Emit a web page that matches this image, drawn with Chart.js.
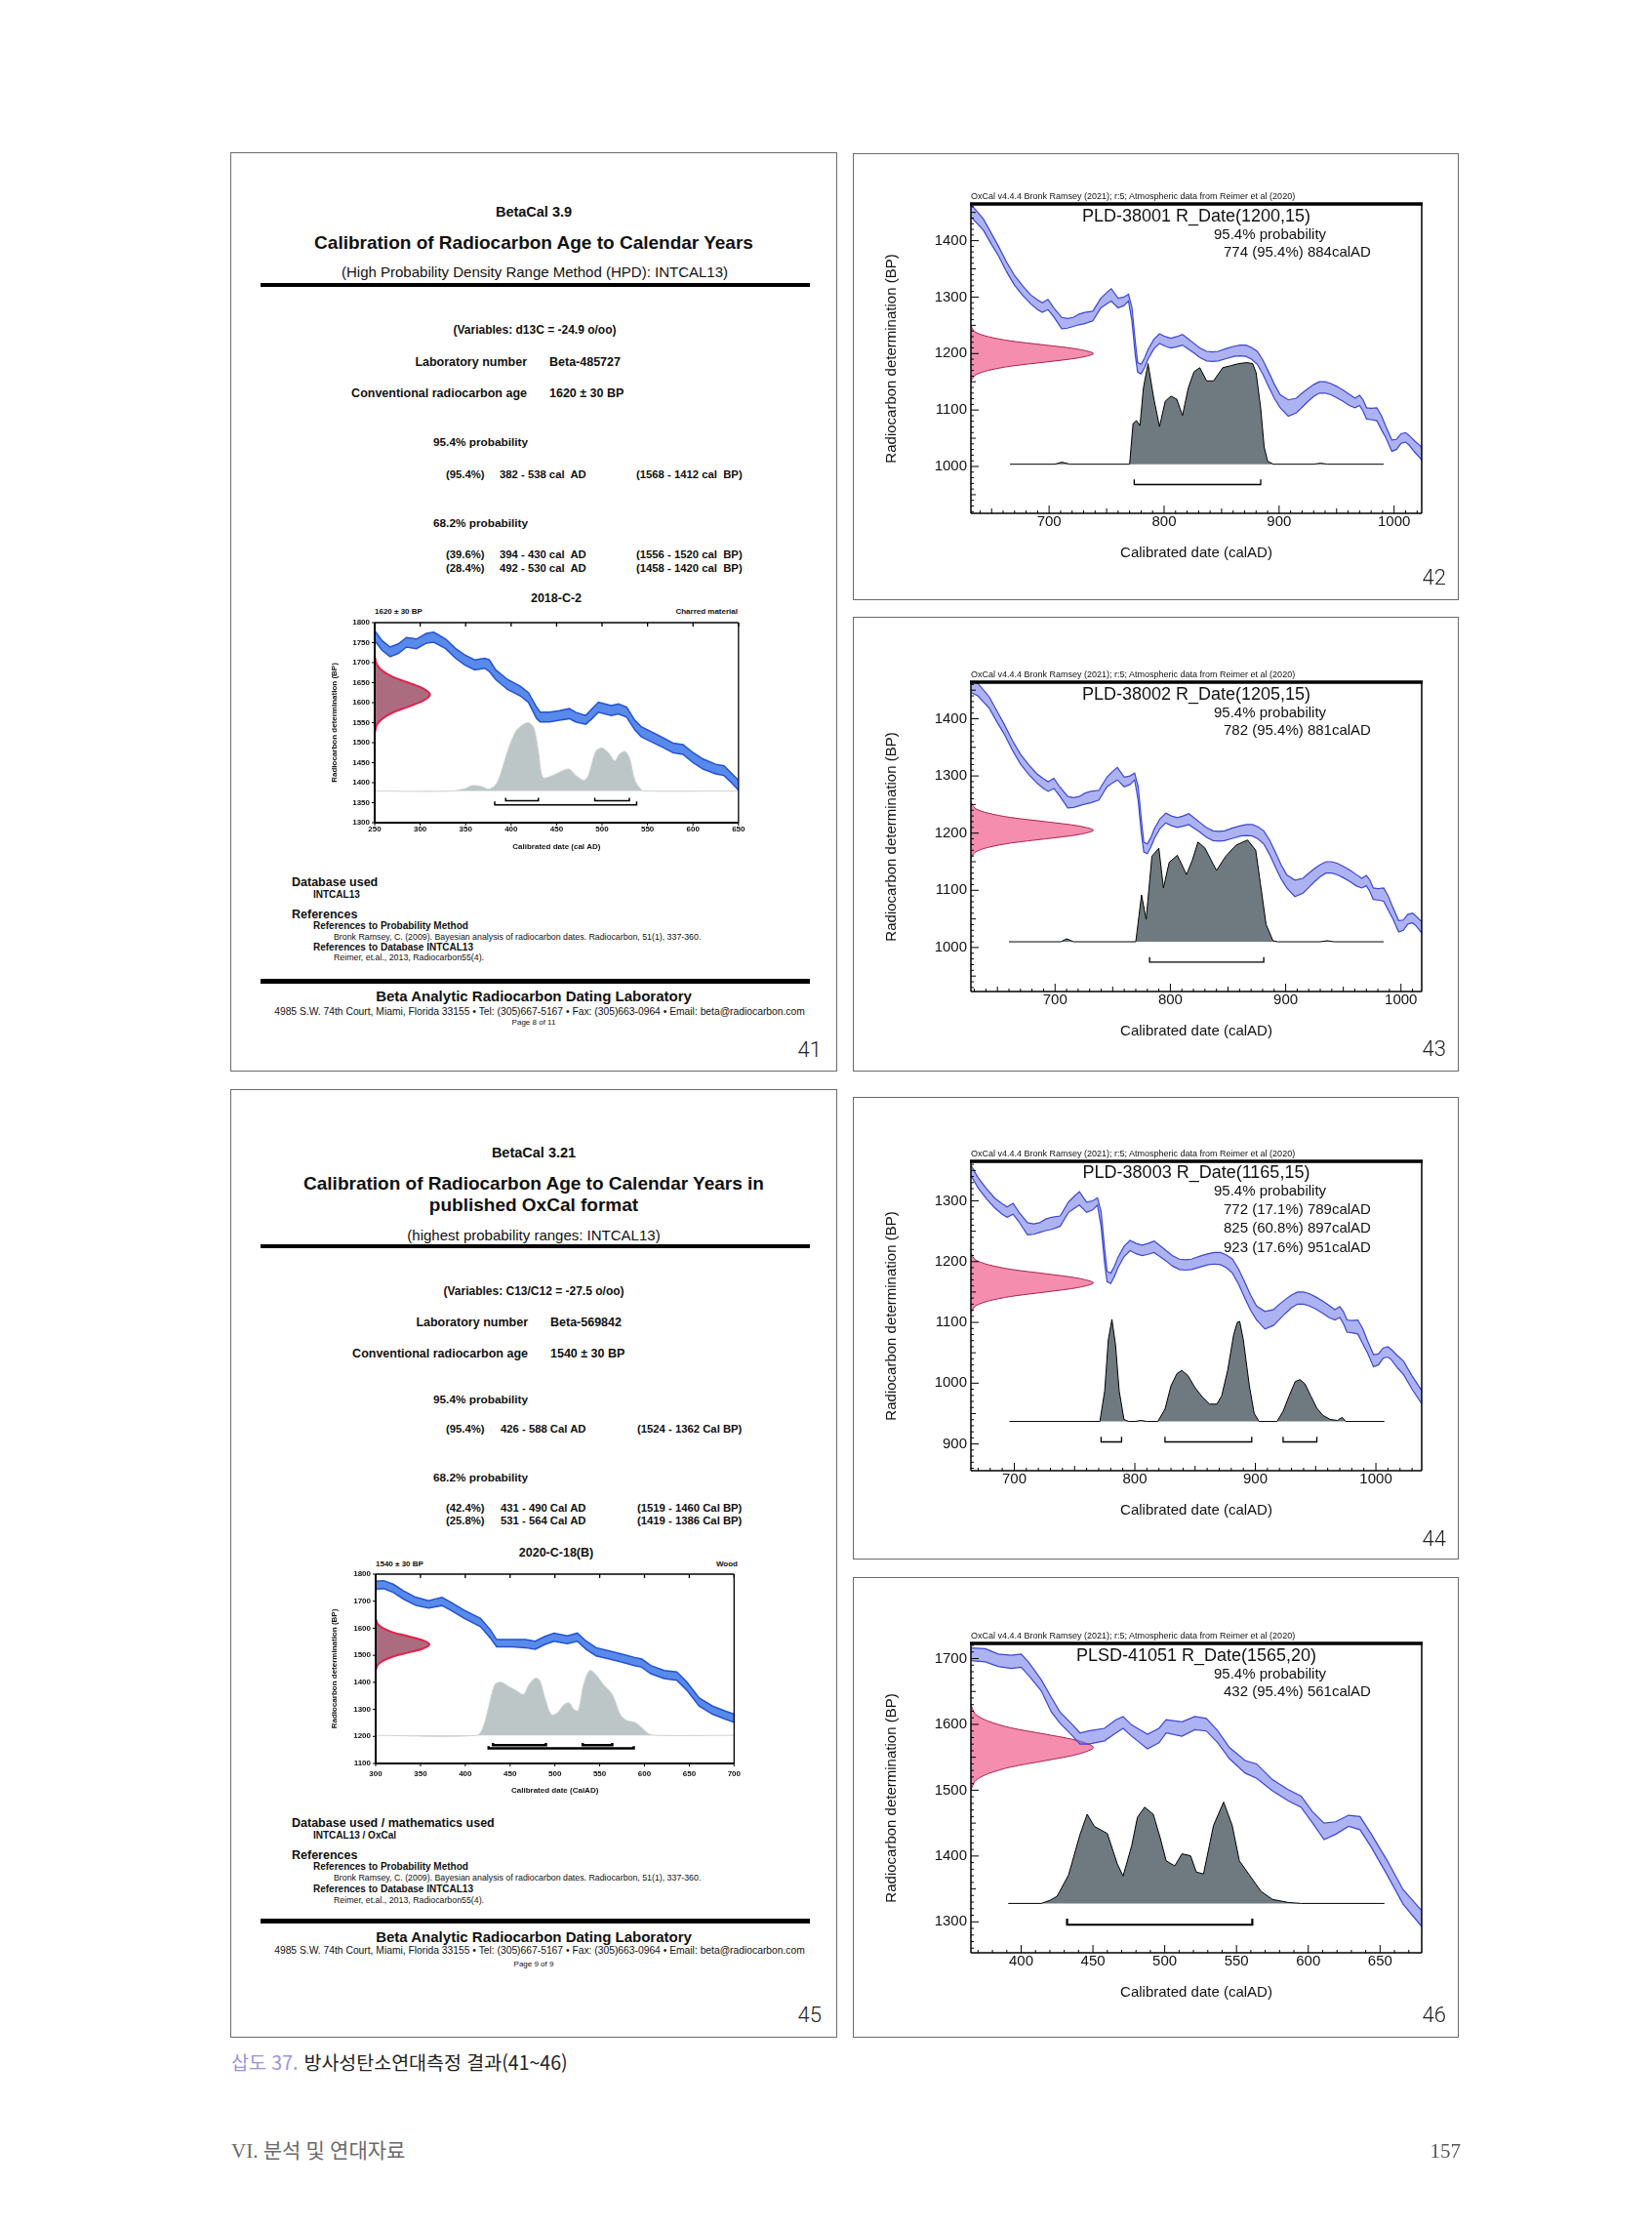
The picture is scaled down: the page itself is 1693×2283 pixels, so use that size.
<!DOCTYPE html>
<html lang="ko">
<head>
<meta charset="utf-8">
<title>삽도 37. 방사성탄소연대측정 결과(41~46)</title>
<script src="https://cdn.jsdelivr.net/npm/chart.js@4.4.1/dist/chart.umd.min.js"></script>
<style>
  html, body { margin: 0; padding: 0; }
  body { width: 1693px; height: 2283px; position: relative; overflow: hidden; background: #fff;
         font-family: "Liberation Sans", Arial, sans-serif; color: #111; }
  .p { position: absolute; border: 1px solid #6b6b6b; box-sizing: border-box; }
  .t { position: absolute; white-space: nowrap; line-height: 1; }
  .l { transform: translateY(-50%); }
  .c { transform: translate(-50%, -50%); }
  .r { transform: translate(-100%, -50%); }
  .b { font-weight: bold; }
  .rule { position: absolute; background: #000; }
  .num { font-family: Roboto, "Noto Sans", sans-serif; font-weight: 300; font-size: 22px; color: #222; }
  canvas { position: absolute; }
</style>
</head>
<body>

<!-- ── panel 41 (BetaCal 3.9) ───────────────────────────────────── -->
<div class="p" style="left:236px;top:156px;width:622px;height:942px"></div>
<div class="t c b" style="left:547px;top:217px;font-size:14.5px">BetaCal 3.9</div>
<div class="t c b" style="left:547px;top:248px;font-size:19px">Calibration of Radiocarbon Age to Calendar Years</div>
<div class="t c" style="left:548px;top:278px;font-size:15px">(High Probability Density Range Method (HPD): INTCAL13)</div>
<div class="rule" style="left:267px;top:290px;width:563px;height:4px"></div>
<div class="t c b" style="left:548px;top:338px;font-size:12px">(Variables: d13C = -24.9 o/oo)</div>
<div class="t r b" style="left:540px;top:371px;font-size:12.5px">Laboratory number</div>
<div class="t l b" style="left:563px;top:371px;font-size:12.5px">Beta-485727</div>
<div class="t r b" style="left:540px;top:403px;font-size:12.5px">Conventional radiocarbon age</div>
<div class="t l b" style="left:563px;top:403px;font-size:12.5px">1620 ± 30 BP</div>
<div class="t l b" style="left:444px;top:454px;font-size:11.8px">95.4% probability</div>
<div class="t l b" style="left:457px;top:487px;font-size:11.3px">(95.4%)</div>
<div class="t l b" style="left:512px;top:487px;font-size:11.3px">382 - 538 cal&nbsp; AD</div>
<div class="t l b" style="left:652px;top:487px;font-size:11.3px">(1568 - 1412 cal&nbsp; BP)</div>
<div class="t l b" style="left:444px;top:537px;font-size:11.8px">68.2% probability</div>
<div class="t l b" style="left:457px;top:569px;font-size:11.3px">(39.6%)</div>
<div class="t l b" style="left:512px;top:569px;font-size:11.3px">394 - 430 cal&nbsp; AD</div>
<div class="t l b" style="left:652px;top:569px;font-size:11.3px">(1556 - 1520 cal&nbsp; BP)</div>
<div class="t l b" style="left:457px;top:583px;font-size:11.3px">(28.4%)</div>
<div class="t l b" style="left:512px;top:583px;font-size:11.3px">492 - 530 cal&nbsp; AD</div>
<div class="t l b" style="left:652px;top:583px;font-size:11.3px">(1458 - 1420 cal&nbsp; BP)</div>
<div class="t c b" style="left:570px;top:613px;font-size:12.5px">2018-C-2</div>
<div class="t l b" style="left:384px;top:627px;font-size:8px">1620 ± 30 BP</div>
<div class="t r b" style="left:756px;top:627px;font-size:8px">Charred material</div>
<canvas id="c41" width="435" height="250" style="left:330px;top:628px"></canvas>
<div class="t l b" style="left:299px;top:904px;font-size:12.5px">Database used</div>
<div class="t l b" style="left:321px;top:917px;font-size:10px">INTCAL13</div>
<div class="t l b" style="left:299px;top:937px;font-size:12.5px">References</div>
<div class="t l b" style="left:321px;top:949px;font-size:10px">References to Probability Method</div>
<div class="t l" style="left:342px;top:960px;font-size:8.8px">Bronk Ramsey, C. (2009). Bayesian analysis of radiocarbon dates. Radiocarbon, 51(1), 337-360.</div>
<div class="t l b" style="left:321px;top:971px;font-size:10px">References to Database INTCAL13</div>
<div class="t l" style="left:342px;top:981px;font-size:8.8px">Reimer, et.al., 2013, Radiocarbon55(4).</div>
<div class="rule" style="left:267px;top:1003px;width:563px;height:5px"></div>
<div class="t c b" style="left:547px;top:1020px;font-size:15px">Beta Analytic Radiocarbon Dating Laboratory</div>
<div class="t c" style="left:553px;top:1037px;font-size:10.3px">4985 S.W. 74th Court, Miami, Florida 33155 • Tel: (305)667-5167 • Fax: (305)663-0964 • Email: beta@radiocarbon.com</div>
<div class="t c" style="left:547px;top:1048px;font-size:8px">Page 8 of 11</div>
<div class="t r num" style="left:842px;top:1076px">41</div>

<!-- ── panel 45 (BetaCal 3.21) ──────────────────────────────────── -->
<div class="p" style="left:236px;top:1116px;width:622px;height:972px"></div>
<div class="t c b" style="left:547px;top:1181px;font-size:14.5px">BetaCal 3.21</div>
<div class="t c b" style="left:547px;top:1212px;font-size:19px">Calibration of Radiocarbon Age to Calendar Years in</div>
<div class="t c b" style="left:547px;top:1234px;font-size:19px">published OxCal format</div>
<div class="t c" style="left:547px;top:1265px;font-size:15px">(highest probability ranges: INTCAL13)</div>
<div class="rule" style="left:267px;top:1275px;width:563px;height:4px"></div>
<div class="t c b" style="left:547px;top:1323px;font-size:12px">(Variables: C13/C12 = -27.5 o/oo)</div>
<div class="t r b" style="left:541px;top:1355px;font-size:12.5px">Laboratory number</div>
<div class="t l b" style="left:564px;top:1355px;font-size:12.5px">Beta-569842</div>
<div class="t r b" style="left:541px;top:1387px;font-size:12.5px">Conventional radiocarbon age</div>
<div class="t l b" style="left:564px;top:1387px;font-size:12.5px">1540 ± 30 BP</div>
<div class="t l b" style="left:444px;top:1435px;font-size:11.8px">95.4% probability</div>
<div class="t l b" style="left:457px;top:1465px;font-size:11.3px">(95.4%)</div>
<div class="t l b" style="left:513px;top:1465px;font-size:11.3px">426 - 588 Cal AD</div>
<div class="t l b" style="left:653px;top:1465px;font-size:11.3px">(1524 - 1362 Cal BP)</div>
<div class="t l b" style="left:444px;top:1515px;font-size:11.8px">68.2% probability</div>
<div class="t l b" style="left:457px;top:1546px;font-size:11.3px">(42.4%)</div>
<div class="t l b" style="left:513px;top:1546px;font-size:11.3px">431 - 490 Cal AD</div>
<div class="t l b" style="left:653px;top:1546px;font-size:11.3px">(1519 - 1460 Cal BP)</div>
<div class="t l b" style="left:457px;top:1559px;font-size:11.3px">(25.8%)</div>
<div class="t l b" style="left:513px;top:1559px;font-size:11.3px">531 - 564 Cal AD</div>
<div class="t l b" style="left:653px;top:1559px;font-size:11.3px">(1419 - 1386 Cal BP)</div>
<div class="t c b" style="left:570px;top:1591px;font-size:12.5px">2020-C-18(B)</div>
<div class="t l b" style="left:385px;top:1603px;font-size:8px">1540 ± 30 BP</div>
<div class="t r b" style="left:756px;top:1603px;font-size:8px">Wood</div>
<canvas id="c45" width="435" height="242" style="left:330px;top:1603px"></canvas>
<div class="t l b" style="left:299px;top:1868px;font-size:12.5px">Database used / mathematics used</div>
<div class="t l b" style="left:321px;top:1881px;font-size:10px">INTCAL13 / OxCal</div>
<div class="t l b" style="left:299px;top:1901px;font-size:12.5px">References</div>
<div class="t l b" style="left:321px;top:1913px;font-size:10px">References to Probability Method</div>
<div class="t l" style="left:342px;top:1924px;font-size:8.8px">Bronk Ramsey, C. (2009). Bayesian analysis of radiocarbon dates. Radiocarbon, 51(1), 337-360.</div>
<div class="t l b" style="left:321px;top:1936px;font-size:10px">References to Database INTCAL13</div>
<div class="t l" style="left:342px;top:1947px;font-size:8.8px">Reimer, et.al., 2013, Radiocarbon55(4).</div>
<div class="rule" style="left:267px;top:1966px;width:563px;height:5px"></div>
<div class="t c b" style="left:547px;top:1984px;font-size:15px">Beta Analytic Radiocarbon Dating Laboratory</div>
<div class="t c" style="left:553px;top:1999px;font-size:10.3px">4985 S.W. 74th Court, Miami, Florida 33155 • Tel: (305)667-5167 • Fax: (305)663-0964 • Email: beta@radiocarbon.com</div>
<div class="t c" style="left:547px;top:2013px;font-size:8px">Page 9 of 9</div>
<div class="t r num" style="left:842px;top:2065px">45</div>

<!-- ── panel 42 ─────────────────────────────────────────────────── -->
<div class="p" style="left:874px;top:157px;width:621px;height:458px"></div>
<canvas id="c42" width="585" height="390" style="left:880px;top:196px"></canvas>
<div class="t l" style="left:995px;top:201px;font-size:9px">OxCal v4.4.4 Bronk Ramsey (2021); r:5; Atmospheric data from Reimer et al (2020)</div>
<div class="t c" style="left:1226px;top:221px;font-size:18px">PLD-38001 R_Date(1200,15)</div>
<div class="t l" style="left:1244px;top:239px;font-size:15px">95.4% probability</div>
<div class="t l" style="left:1254px;top:257px;font-size:15px">774 (95.4%) 884calAD</div>
<div class="t r num" style="left:1482px;top:592px">42</div>

<!-- ── panel 43 ─────────────────────────────────────────────────── -->
<div class="p" style="left:874px;top:632px;width:621px;height:466px"></div>
<canvas id="c43" width="585" height="390" style="left:880px;top:686px"></canvas>
<div class="t l" style="left:995px;top:691px;font-size:9px">OxCal v4.4.4 Bronk Ramsey (2021); r:5; Atmospheric data from Reimer et al (2020)</div>
<div class="t c" style="left:1226px;top:711px;font-size:18px">PLD-38002 R_Date(1205,15)</div>
<div class="t l" style="left:1244px;top:729px;font-size:15px">95.4% probability</div>
<div class="t l" style="left:1254px;top:747px;font-size:15px">782 (95.4%) 881calAD</div>
<div class="t r num" style="left:1482px;top:1075px">43</div>

<!-- ── panel 44 ─────────────────────────────────────────────────── -->
<div class="p" style="left:874px;top:1124px;width:621px;height:474px"></div>
<canvas id="c44" width="585" height="390" style="left:880px;top:1177px"></canvas>
<div class="t l" style="left:995px;top:1182px;font-size:9px">OxCal v4.4.4 Bronk Ramsey (2021); r:5; Atmospheric data from Reimer et al (2020)</div>
<div class="t c" style="left:1226px;top:1201px;font-size:18px">PLD-38003 R_Date(1165,15)</div>
<div class="t l" style="left:1244px;top:1219px;font-size:15px">95.4% probability</div>
<div class="t l" style="left:1254px;top:1238px;font-size:15px">772 (17.1%) 789calAD</div>
<div class="t l" style="left:1254px;top:1257px;font-size:15px">825 (60.8%) 897calAD</div>
<div class="t l" style="left:1254px;top:1277px;font-size:15px">923 (17.6%) 951calAD</div>
<div class="t r num" style="left:1482px;top:1577px">44</div>

<!-- ── panel 46 ─────────────────────────────────────────────────── -->
<div class="p" style="left:874px;top:1616px;width:621px;height:472px"></div>
<canvas id="c46" width="585" height="390" style="left:880px;top:1671px"></canvas>
<div class="t l" style="left:995px;top:1676px;font-size:9px">OxCal v4.4.4 Bronk Ramsey (2021); r:5; Atmospheric data from Reimer et al (2020)</div>
<div class="t c" style="left:1226px;top:1696px;font-size:18px">PLSD-41051 R_Date(1565,20)</div>
<div class="t l" style="left:1244px;top:1714px;font-size:15px">95.4% probability</div>
<div class="t l" style="left:1254px;top:1732px;font-size:15px">432 (95.4%) 561calAD</div>
<div class="t r num" style="left:1482px;top:2065px">46</div>

<!-- ── caption and page footer ──────────────────────────────────── -->
<div class="t l" style="left:237px;top:2113px;font-size:19.5px;font-family:'Noto Sans CJK KR',sans-serif;color:#222"><span style="color:#9c93dd">삽도 37.</span><span style="margin-left:6px">방사성탄소연대측정 결과(41~46)</span></div>
<div class="t l" style="left:237px;top:2204px;font-size:21px;color:#6a6a6a;font-family:'Liberation Serif','Noto Sans CJK KR',serif">VI. 분석 및 연대자료</div>
<div class="t r" style="left:1497px;top:2204px;font-size:21px;color:#555;font-family:'Liberation Serif',serif">157</div>

<script>
// ── Data ─────────────────────────────────────────────────────────────

// IntCal20 band (upper / lower BP), shared by 42, 43, 44
const CAL20_YEARS = [625,633,643,650,656,663,670,677,684,690, 694,699,704,711,716,721,726,731,738,745,
                     750,754,760,765,769,772,775,777,780,783, 786,791,796,801,806,811,816,821,826,831,
                     837,842,847,854,861,866,871,876,881,886, 891,896,901,908,915,920,925,930,935,940,
                     945,950,956,961,966,970,973,976,980,985, 989,993,998,1002,1006,1010,1013,1018,1023,1030, 1040];
const CAL20_UPPER = [1472,1462,1438,1412,1390,1362,1338,1320,1304,1295, 1290,1296,1281,1264,1262,1264,1270,1273,1275,1298,
                     1308,1315,1298,1300,1305,1282,1220,1184,1181,1192, 1207,1225,1235,1230,1227,1230,1234,1226,1218,1210,
                     1204,1203,1204,1209,1213,1215,1215,1211,1204,1188, 1167,1145,1127,1118,1121,1130,1138,1145,1150,1150,
                     1147,1142,1135,1128,1121,1126,1118,1104,1103,1104, 1090,1070,1047,1048,1058,1060,1055,1045,1036,1012, 982];
const CAL20_LOWER = [1448,1440,1418,1393,1373,1345,1321,1303,1288,1278, 1273,1278,1265,1244,1245,1248,1251,1253,1258,1281,
                     1288,1293,1281,1285,1293,1258,1196,1167,1164,1175, 1190,1208,1218,1213,1210,1212,1215,1208,1201,1193,
                     1187,1186,1187,1191,1195,1196,1195,1190,1181,1163, 1141,1120,1104,1089,1095,1105,1115,1124,1130,1130,
                     1127,1122,1115,1108,1104,1108,1098,1084,1083,1081, 1065,1050,1027,1030,1041,1043,1038,1025,1014,990, 960];

// IntCal20 band for 46
const CAL20B_YEARS = [360,365,375,384,393,400,405,414,421,427, 436,441,447,458,466,471,477,488,496,501,
                      512,521,529,537,545,556,564,575,586,595, 603,611,619,628,636,644,655,666,679,685];
const CAL20B_UPPER = [1718,1716,1715,1707,1705,1707,1695,1668,1641,1619, 1599,1587,1590,1594,1607,1612,1599,1585,1594,1607,
                      1604,1612,1609,1590,1565,1545,1540,1516,1501,1491, 1467,1450,1452,1462,1460,1433,1393,1349,1317,1300];
const CAL20B_LOWER = [1698,1697,1695,1688,1685,1687,1675,1651,1619,1602, 1582,1570,1570,1575,1587,1594,1582,1563,1572,1587,
                      1582,1592,1590,1572,1548,1526,1518,1499,1484,1474, 1450,1425,1433,1445,1440,1413,1371,1327,1293,1278];

// IntCal13 bands (BetaCal sheets 41 and 45)
const CAL13A_YEARS = [250,258,267,276,285,296,307,315,328,339, 349,360,371,376,383,396,410,419,428,432,
                      442,453,464,471,482,489,496,510,518,527, 536,543,557,568,578,589,600,611,625,634, 643,650];
const CAL13A_UPPER = [1780,1755,1739,1747,1763,1759,1773,1776,1759,1735, 1719,1707,1711,1707,1682,1658,1641,1625,1589,1576,
                      1576,1580,1585,1576,1568,1585,1601,1593,1597,1589, 1556,1540,1524,1511,1499,1495,1475,1459,1446,1442, 1422,1406];
const CAL13A_LOWER = [1755,1731,1715,1723,1739,1735,1749,1751,1735,1711, 1694,1682,1686,1678,1658,1633,1617,1601,1560,1552,
                      1552,1556,1560,1552,1546,1560,1576,1568,1572,1564, 1532,1515,1499,1487,1475,1471,1450,1434,1422,1418, 1398,1381];
const CAL13B_YEARS = [300,309,320,331,345,359,374,384,399,417, 428,435,453,467,478,489,499,514,525,535,
                      546,561,575,589,597,607,622,636,647,661, 676,690,700];
const CAL13B_UPPER = [1774,1776,1762,1738,1714,1702,1714,1696,1666,1636, 1594,1558,1558,1558,1552,1570,1582,1572,1582,1552,
                      1528,1516,1504,1492,1486,1462,1444,1438,1402,1342, 1312,1294,1282];
const CAL13B_LOWER = [1744,1747,1732,1708,1684,1675,1684,1666,1636,1606, 1564,1531,1531,1528,1522,1540,1552,1543,1552,1522,
                      1498,1486,1474,1462,1456,1432,1414,1408,1372,1312, 1282,1264,1252];

// measured date (pink): relative density against BP
const PINK_DENS   = [0,0.01,0.04,0.14,0.32,0.61,0.88,1,0.88,0.61,0.32,0.14,0.04,0.01,0];
const PINK_BP_42  = [1250,1245,1237.5,1230,1222.5,1215,1207.5,1200,1192.5,1185,1177.5,1170,1162.5,1155,1150];
const PINK_BP_43  = [1255,1250,1242.5,1235,1227.5,1220,1212.5,1205,1197.5,1190,1182.5,1175,1167.5,1160,1155];
const PINK_BP_44  = [1215,1210,1202.5,1195,1187.5,1180,1172.5,1165,1157.5,1150,1142.5,1135,1127.5,1120,1115];
const PINK_BP_46  = [1630,1625,1615,1605,1595,1585,1575,1565,1555,1545,1535,1525,1515,1505,1500];
const PINK_BP_41  = [1715,1710,1695,1680,1665,1650,1635,1620,1605,1590,1575,1560,1545,1530,1525];
const PINK_BP_45  = [1635,1630,1615,1600,1585,1570,1555,1540,1525,1510,1495,1480,1465,1450,1445];

// calibrated distributions (grey): relative probability by calendar year
const POST42_YEARS = [666,705,711,718,770,773,776,779,782,786, 791,796,801,806,811,816,821,826,831,837,
                      843,851,858,865,872,877,880,884,887,890, 895,930,936,942,991];
const POST42_DENS  = [0,0,0.02,0,0,0.4,0.43,0.38,0.75,0.99, 0.65,0.37,0.62,0.67,0.64,0.48,0.75,0.91,0.95,0.82,
                      0.82,0.95,0.97,0.99,1,0.99,0.9,0.55,0.17,0.03, 0,0,0.01,0,0];
const POST43_YEARS = [660,705,710,716,770,775,779,784,790,794, 799,806,814,819,824,830,840,848,857,867,
                      874,878,883,889,893,930,936,942,985];
const POST43_DENS  = [0,0,0.03,0,0,0.46,0.22,0.84,0.92,0.53, 0.78,0.85,0.66,0.8,0.98,0.92,0.7,0.84,0.95,1,
                      0.9,0.58,0.17,0.01,0,0,0.01,0,0];
const POST44_YEARS = [696,771,775,778,781,784,787,791,795,800, 805,810,819,825,830,835,839,844,850,856,
                      862,868,872,877,882,885,887,890,895,899, 903,918,923,928,933,937,941,946,951,956,
                      962,968,972,975,1007];
const POST44_DENS  = [0,0,0.3,0.8,1,0.75,0.3,0.02,0,0, 0.01,0,0,0.12,0.35,0.47,0.5,0.45,0.33,0.24,
                      0.17,0.17,0.25,0.5,0.85,0.97,0.98,0.8,0.35,0.08, 0,0,0.1,0.25,0.39,0.41,0.37,0.25,0.13,0.06,
                      0.02,0.01,0.04,0,0];
const POST46_YEARS = [391,414,420,425,433,441,446,451,460,467, 471,477,481,486,492,497,501,507,512,518,
                      522,527,534,541,547,552,559,567,575,586, 595,653];
const POST46_DENS  = [0,0,0.03,0.07,0.28,0.68,0.88,0.76,0.69,0.39, 0.27,0.57,0.85,0.95,0.88,0.64,0.42,0.37,0.49,0.47,
                      0.31,0.29,0.77,1,0.77,0.42,0.28,0.12,0.04,0.01, 0,0];
const POST41_YEARS = [250,335,350,357,367,376,385,396,405,412, 419,425,430,435,446,457,464,471,480,485,
                      493,500,507,514,519,525,530,536,543,546, 650];
const POST41_DENS  = [0,0,0.04,0.08,0.07,0.03,0.13,0.58,0.87,0.96, 1,0.92,0.58,0.2,0.23,0.3,0.32,0.23,0.16,0.23,
                      0.58,0.63,0.56,0.44,0.54,0.58,0.49,0.16,0.02,0, 0];
const POST45_YEARS = [300,413,420,426,433,440,449,458,465,471, 478,483,489,496,503,510,516,521,526,532,
                      539,546,553,564,573,580,589,596,604,611, 700];
const POST45_DENS  = [0,0,0.13,0.43,0.78,0.82,0.75,0.68,0.63,0.78, 0.88,0.85,0.57,0.32,0.35,0.47,0.5,0.4,0.38,0.78,
                      1,0.93,0.8,0.63,0.32,0.23,0.2,0.13,0.03,0, 0];

// probability ranges (calAD)
const RANGES_42 = [[774, 884]];
const RANGES_43 = [[782, 881]];
const RANGES_44 = [[772, 789], [825, 897], [923, 951]];
const RANGES_46 = [[432, 561]];
const RANGES_41_95 = [[382, 538]];
const RANGES_41_68 = [[394, 430], [492, 530]];
const RANGES_45_95 = [[426, 588]];
const RANGES_45_68 = [[431, 490], [531, 564]];

// tick labels
const X_TICKS_OX = [700, 800, 900, 1000];
const Y_TICKS_42 = [1000, 1100, 1200, 1300, 1400];
const Y_TICKS_44 = [900, 1000, 1100, 1200, 1300];
const X_TICKS_46 = [400, 450, 500, 550, 600, 650];
const Y_TICKS_46 = [1300, 1400, 1500, 1600, 1700];
const X_TICKS_41 = [250, 300, 350, 400, 450, 500, 550, 600, 650];
const Y_TICKS_41 = [1300, 1350, 1400, 1450, 1500, 1550, 1600, 1650, 1700, 1750, 1800];
const X_TICKS_45 = [300, 350, 400, 450, 500, 550, 600, 650, 700];
const Y_TICKS_45 = [1100, 1200, 1300, 1400, 1500, 1600, 1700, 1800];

// ── Styles ───────────────────────────────────────────────────────────

const FONT = "'Liberation Sans', Arial, sans-serif";
const OX   = { band: 'rgba(105,115,232,0.55)', edge: '#3b47cf', pink: 'rgba(238,80,130,0.65)',
               pinkEdge: '#a8234d', post: '#6f7a80', postEdge: '#000' };
const BETA = { band: 'rgb(88,138,236)', edge: 'rgb(36,82,208)', pink: 'rgb(172,108,128)',
               pinkEdge: 'rgb(226,34,74)', post: 'rgb(189,198,198)', postEdge: 'rgb(205,210,210)' };
const L_OX  = { yw: 115, xh: 60, pt: 10, pr: 8, ytPad: 25, xtPad: 10, ylPad: 4, xlPad: 0 };
const L_41  = { yw: 54, xh: 35, pt: 10, pr: 8, ytPad: 8.2, xtPad: 5.2, ylPad: 5, xlPad: 1.5 };
const L_45  = { yw: 55, xh: 38, pt: 10, pr: 9, ytPad: 8.2, xtPad: 5.2, ylPad: 5, xlPad: 6 };

Chart.defaults.font.family = FONT;

// ── Helpers ──────────────────────────────────────────────────────────

function pts(xs, ys) {
  return xs.map((x, i) => ({ x, y: ys[i] }));
}

// range bars: short end ticks up from a horizontal line
function bracketPts(ranges, top, bottom) {
  const out = [];
  ranges.forEach(([a, b]) => {
    out.push({ x: a, y: top }, { x: a, y: bottom }, { x: b, y: bottom }, { x: b, y: top }, { x: b, y: null });
  });
  return out;
}

// frame + tick marks drawn from the chart's own scales
const frameTicks = {
  id: 'frameTicks',
  afterDatasetsDraw(chart, args, o) {
    const { ctx, chartArea: a, scales: { x, y } } = chart;
    const seg = (x1, y1, x2, y2, w) => {
      ctx.lineWidth = w; ctx.beginPath(); ctx.moveTo(x1, y1); ctx.lineTo(x2, y2); ctx.stroke();
    };
    ctx.save();
    ctx.strokeStyle = '#000';
    if (o.kind === 'ox') {
      const len = (v, big) => v % big === 0 ? 8 : v % (big / 2) === 0 ? 5 : 3;
      for (let v = Math.ceil(y.min / 10) * 10; v <= y.max; v += 10) {
        const p = y.getPixelForValue(v);
        seg(a.left, p, a.left + len(v, 100), p, 1);
      }
      for (let v = Math.ceil(x.min / 10) * 10; v <= x.max; v += 10) {
        const p = x.getPixelForValue(v);
        seg(p, a.bottom, p, a.bottom - len(v, o.xBig), 1);
      }
      seg(a.left, a.top, a.left, a.bottom, 1.5);
      seg(a.left, a.bottom, a.right, a.bottom, 1.5);
      seg(a.right, a.top, a.right, a.bottom, 1.5);
      seg(a.left - 1, a.top, a.right + 1, a.top, 3.5);
    } else {
      y.ticks.forEach(t => { const p = y.getPixelForValue(t.value); seg(a.left - 3, p, a.left, p, 1); });
      x.ticks.forEach(t => {
        const p = x.getPixelForValue(t.value);
        seg(p, a.bottom, p, a.bottom + 3, 1);
        seg(p, a.top, p, a.top + 4, 1.3);
      });
      seg(a.left, a.top, a.right, a.top, 1.3);
      seg(a.right, a.top, a.right, a.bottom, 1.3);
      seg(a.left, a.top, a.left, a.bottom + 1, 2);
      seg(a.left - 1, a.bottom, a.right, a.bottom, 2);
    }
    ctx.restore();
  }
};

// ── Chart factory ────────────────────────────────────────────────────

function makeChart(id, c) {
  const ox   = c.kind === 'ox';
  const col  = ox ? OX : BETA;
  const L    = c.layout;
  const span = c.top - c.base;
  const tickFont  = ox ? { size: 15 } : { size: 8, weight: 'bold' };
  const titleFont = ox ? { size: 15 } : { size: 8, weight: 'bold' };

  const datasets = [
    { data: pts(c.years, c.upper), borderColor: col.edge, borderWidth: ox ? 1.2 : 1.5, fill: false },
    { data: pts(c.years, c.lower), borderColor: col.edge, borderWidth: ox ? 1.2 : 1.5,
      fill: '-1', backgroundColor: col.band },
    { data: pts(PINK_DENS, c.pinkBp), xAxisID: 'xd', fill: 'shape', tension: 0.3,
      backgroundColor: col.pink, borderColor: col.pinkEdge, borderWidth: ox ? 1 : 2 },
    { data: pts(c.postYears, c.postDens), yAxisID: 'yp', fill: { value: 0 }, tension: ox ? 0 : 0.3,
      backgroundColor: col.post, borderColor: col.postEdge, borderWidth: 1 },
  ];
  c.brackets.forEach(b => datasets.push({
    data: bracketPts(b.r, b.top, b.bottom), yAxisID: 'yp', fill: false,
    borderColor: '#000', borderWidth: b.w
  }));

  return new Chart(document.getElementById(id), {
    type: 'line',
    data: { datasets },
    plugins: [frameTicks],
    options: {
      responsive: false,
      animation: false,
      events: [],
      layout: { padding: { top: L.pt, right: L.pr, left: 0, bottom: 0 } },
      elements: { point: { radius: 0 } },
      plugins: {
        legend: { display: false },
        tooltip: { enabled: false },
        frameTicks: { kind: c.kind, xBig: c.xBig || 100 }
      },
      scales: {
        x: {
          type: 'linear', min: c.x[0], max: c.x[1],
          afterBuildTicks: s => { s.ticks = c.xTicks.map(value => ({ value })); },
          afterFit: s => { s.height = L.xh; },
          grid: { display: false, drawTicks: false },
          border: { display: false },
          ticks: { font: tickFont, color: '#111', padding: L.xlPad, maxRotation: 0, autoSkip: false,
                   callback: v => String(v) },
          title: { display: true, text: c.xTitle, font: titleFont, color: '#111',
                   padding: { top: 0, bottom: L.xtPad } }
        },
        y: {
          type: 'linear', position: 'left', min: c.y[0], max: c.y[1],
          afterBuildTicks: s => { s.ticks = c.yTicks.map(value => ({ value })); },
          afterFit: s => { s.width = L.yw; },
          grid: { display: false, drawTicks: false },
          border: { display: false },
          ticks: { font: tickFont, color: '#111', padding: L.ylPad, autoSkip: false,
                   callback: v => String(v) },
          title: { display: true, text: 'Radiocarbon determination (BP)', font: titleFont, color: '#111',
                   padding: { top: L.ytPad, bottom: 0 } }
        },
        xd: { type: 'linear', display: false, min: 0, max: 1 / c.reach },
        yp: { type: 'linear', display: false, min: (c.y[0] - c.base) / span, max: (c.y[1] - c.base) / span }
      }
    }
  });
}

// ── Init ─────────────────────────────────────────────────────────────

makeChart('c42', {
  kind: 'ox', layout: L_OX, x: [632, 1024], y: [917, 1465], xTicks: X_TICKS_OX, yTicks: Y_TICKS_42,
  years: CAL20_YEARS, upper: CAL20_UPPER, lower: CAL20_LOWER, pinkBp: PINK_BP_42, reach: 0.272,
  postYears: POST42_YEARS, postDens: POST42_DENS, base: 1004, top: 1184,
  brackets: [{ r: RANGES_42, top: -0.15, bottom: -0.2, w: 1.3 }], xTitle: 'Calibrated date (calAD)'
});
makeChart('c43', {
  kind: 'ox', layout: L_OX, x: [627, 1018], y: [923, 1464], xTicks: X_TICKS_OX, yTicks: Y_TICKS_42,
  years: CAL20_YEARS, upper: CAL20_UPPER, lower: CAL20_LOWER, pinkBp: PINK_BP_43, reach: 0.272,
  postYears: POST43_YEARS, postDens: POST43_DENS, base: 1010, top: 1188,
  brackets: [{ r: RANGES_43, top: -0.15, bottom: -0.2, w: 1.3 }], xTitle: 'Calibrated date (calAD)'
});
makeChart('c44', {
  kind: 'ox', layout: L_OX, x: [664, 1038], y: [856, 1365], xTicks: X_TICKS_OX, yTicks: Y_TICKS_44,
  years: CAL20_YEARS, upper: CAL20_UPPER, lower: CAL20_LOWER, pinkBp: PINK_BP_44, reach: 0.272,
  postYears: POST44_YEARS, postDens: POST44_DENS, base: 937, top: 1105,
  brackets: [{ r: RANGES_44, top: -0.15, bottom: -0.2, w: 1.3 }], xTitle: 'Calibrated date (calAD)'
});
makeChart('c46', {
  kind: 'ox', layout: L_OX, x: [365, 679], y: [1253, 1723], xTicks: X_TICKS_46, yTicks: Y_TICKS_46, xBig: 50,
  years: CAL20B_YEARS, upper: CAL20B_UPPER, lower: CAL20B_LOWER, pinkBp: PINK_BP_46, reach: 0.272,
  postYears: POST46_YEARS, postDens: POST46_DENS, base: 1328, top: 1482,
  brackets: [{ r: RANGES_46, top: -0.15, bottom: -0.21, w: 2.2 }], xTitle: 'Calibrated date (calAD)'
});
makeChart('c41', {
  kind: 'beta', layout: L_41, x: [250, 650], y: [1300, 1800], xTicks: X_TICKS_41, yTicks: Y_TICKS_41,
  years: CAL13A_YEARS, upper: CAL13A_UPPER, lower: CAL13A_LOWER, pinkBp: PINK_BP_41, reach: 0.152,
  postYears: POST41_YEARS, postDens: POST41_DENS, base: 1379, top: 1550,
  brackets: [{ r: RANGES_41_95, top: -0.15, bottom: -0.2, w: 1.5 },
             { r: RANGES_41_68, top: -0.1, bottom: -0.14, w: 1.5 }],
  xTitle: 'Calibrated date (cal AD)'
});
makeChart('c45', {
  kind: 'beta', layout: L_45, x: [300, 700], y: [1100, 1800], xTicks: X_TICKS_45, yTicks: Y_TICKS_45,
  years: CAL13B_YEARS, upper: CAL13B_UPPER, lower: CAL13B_LOWER, pinkBp: PINK_BP_45, reach: 0.15,
  postYears: POST45_YEARS, postDens: POST45_DENS, base: 1204, top: 1444,
  brackets: [{ r: RANGES_45_95, top: -0.167, bottom: -0.2, w: 2.5 },
             { r: RANGES_45_68, top: -0.117, bottom: -0.15, w: 2.5 }],
  xTitle: 'Calibrated date (CalAD)'
});
</script>
</body>
</html>
